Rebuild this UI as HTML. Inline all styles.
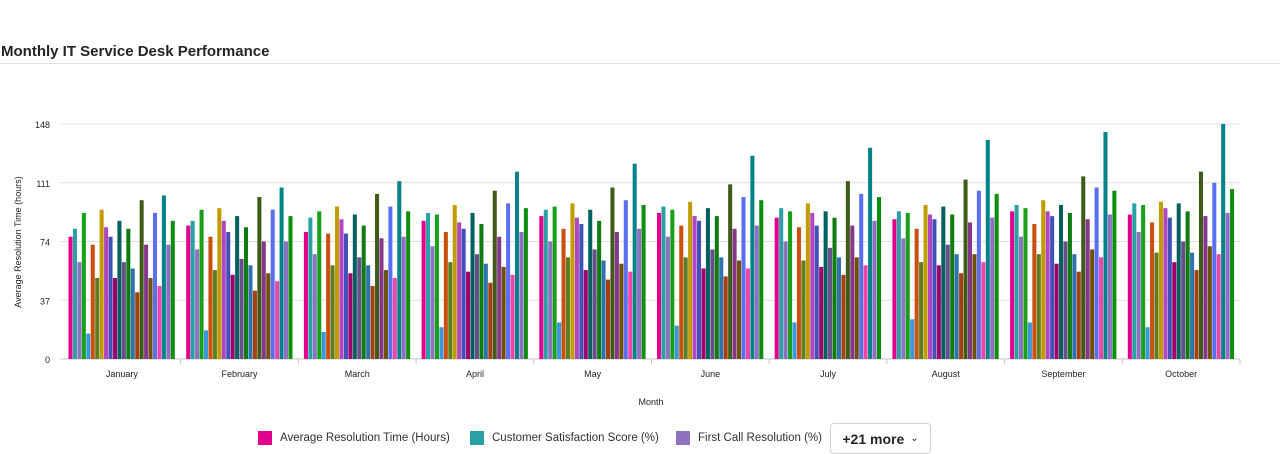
<!DOCTYPE html>
<html><head><meta charset="utf-8"><style>
body{margin:0;width:1280px;height:454px;background:#fff;font-family:"Liberation Sans",sans-serif;overflow:hidden;position:relative}
#title{position:absolute;left:1px;top:43px;font-size:15px;color:#252423;font-weight:600}
#hr{position:absolute;left:0;top:63px;width:1280px;height:1px;background:#e1dfdd}
#legend{position:absolute;top:423px;left:258px;height:30px;font-size:11.5px;color:#323130}
.li{position:absolute;top:0;height:30px;display:flex;align-items:center;white-space:nowrap}
.sw{width:14px;height:14px;margin-right:8px}
#more{position:absolute;left:572px;top:0;border:1px solid #d1d1d1;border-radius:4px;height:31px;width:101px;box-sizing:border-box;display:flex;align-items:center;justify-content:center;font-size:14px;font-weight:600;color:#242424}
</style></head><body>
<div id="title">Monthly IT Service Desk Performance</div>
<div id="hr"></div>
<svg id="chart" width="1280" height="454" style="position:absolute;left:0;top:0"></svg>
<div id="legend">
<div class="li" style="left:0"><div class="sw" style="background:#e3008c"></div>Average Resolution Time (Hours)</div>
<div class="li" style="left:212px"><div class="sw" style="background:#2aa0a4"></div>Customer Satisfaction Score (%)</div>
<div class="li" style="left:418px"><div class="sw" style="background:#8e72c0"></div>First Call Resolution (%)</div>
<div id="more">+21 more <span style="font-size:10px;font-weight:400;margin-left:6px">&#8964;</span></div>
</div>
<script>
const months=["January","February","March","April","May","June","July","August","September","October"];
const yTicks=[0,37,74,111,148];
const colors=["#e3008c","#2aa0a4","#8e72c0","#18a018","#3a96dd","#ca5010","#5c7e22","#c19c00","#b146c2","#4052b8","#a0006a","#03605f","#674f8c","#107c10","#2e72b0","#a4410e","#3f5a19","#86378c","#6f5109","#5a6ff0","#ef44a8","#038387","#8f6ec4","#0e8e0e"];
const s0=[77,84,80,87,90,92,89,88,93,91];
const s1=[82,87,89,92,94,96,95,93,97,98];
const s2=[61,69,66,71,74,77,74,76,77,80];
const s3=[92,94,93,91,96,94,93,92,95,97];
const s4=[16,18,17,20,23,21,23,25,23,20];
const s5=[72,77,79,80,82,84,83,82,85,86];
const s6=[51,56,59,61,64,64,62,61,66,67];
const s7=[94,95,96,97,98,99,98,97,100,99];
const s8=[83,87,88,86,89,90,92,91,93,95];
const s9=[77,80,79,82,85,87,84,88,90,89];
const s10=[51,53,54,55,56,57,58,59,60,61];
const s11=[87,90,91,92,94,95,93,96,97,98];
const s12=[61,63,64,66,69,69,70,72,74,74];
const s13=[82,83,84,85,87,90,89,91,92,93];
const s14=[57,59,59,60,62,64,64,66,66,67];
const s15=[42,43,46,48,50,52,53,54,55,56];
const s16=[100,102,104,106,108,110,112,113,115,118];
const s17=[72,74,76,77,80,82,84,86,88,90];
const s18=[51,54,56,58,60,62,64,66,69,71];
const s19=[92,94,96,98,100,102,104,106,108,111];
const s20=[46,49,51,53,55,57,59,61,64,66];
const s21=[103,108,112,118,123,128,133,138,143,148];
const s22=[72,74,77,80,82,84,87,89,91,92];
const s23=[87,90,93,95,97,100,102,104,106,107];
const series=[s0,s1,s2,s3,s4,s5,s6,s7,s8,s9,s10,s11,s12,s13,s14,s15,s16,s17,s18,s19,s20,s21,s22,s23];
const NS="http://www.w3.org/2000/svg";
const svg=document.getElementById('chart');
const L=63,R=1240,T=124,B=359,MAX=148;
const y=v=>B-(v/MAX)*(B-T);
const bw=(R-L)/months.length;
const x=i=>L+i*bw;
function mk(t,a){const e=document.createElementNS(NS,t);for(const k in a)e.setAttribute(k,a[k]);svg.appendChild(e);return e;}
yTicks.forEach(t=>{
  const g=mk('line',{x1:60,x2:R,y1:y(t),y2:y(t),stroke:t===0?'#c8c6c4':'#e1dfdd','stroke-width':1});
  
  
  const tx=mk('text',{x:50,y:y(t)+4,'text-anchor':'end','font-size':9,fill:'#252423'});
  tx.textContent=t;
  
  
});
const pad=5.5,inner=bw-2*pad,barW=inner/series.length;
months.forEach((m,i)=>{
  series.forEach((s,j)=>{
    const r=mk('rect',{x:x(i)+pad+j*barW,y:y(s[i]),width:barW-0.4,height:B-y(s[i]),fill:colors[j]});
    
    
  });
  const tk=mk('line',{x1:x(i+1),x2:x(i+1),y1:B,y2:B+5,stroke:'#c8c6c4'});
  
  
  const t=mk('text',{x:x(i)+bw/2,y:377,'text-anchor':'middle','font-size':9,fill:'#252423'});
  t.textContent=m;
  
  
});
const xt=mk('text',{x:651,y:405,'text-anchor':'middle','font-size':9,fill:'#252423'});
xt.textContent='Month';


const yt=mk('text',{x:0,y:0,'text-anchor':'middle','font-size':9,fill:'#252423',transform:'translate(21,242) rotate(-90)'});
yt.textContent='Average Resolution Time (hours)';


</script>
</body></html>
